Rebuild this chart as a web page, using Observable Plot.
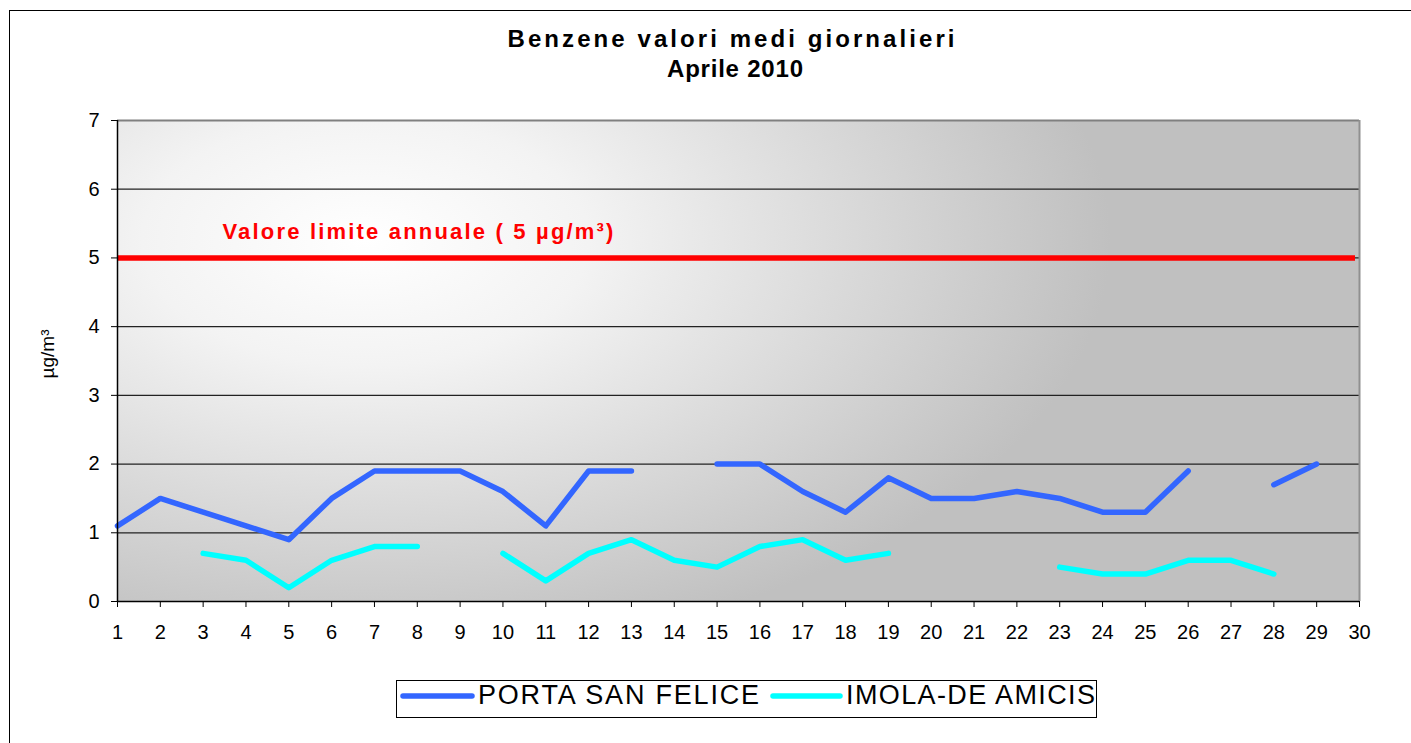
<!DOCTYPE html>
<html><head><meta charset="utf-8">
<script src="https://cdn.jsdelivr.net/npm/d3@7"></script>
<script src="https://cdn.jsdelivr.net/npm/@observablehq/plot@0.6"></script>
<style>
html,body{margin:0;padding:0;background:#fff;}
#wrap{position:relative;width:1411px;height:743px;overflow:hidden;font-family:"Liberation Sans",Arial,sans-serif;}
#frame{position:absolute;left:9px;top:10px;width:1420px;height:780px;border:1.5px solid #000;box-sizing:border-box;}
#chart{position:absolute;left:0;top:0;}
#overlay{position:absolute;left:0;top:0;}
</style></head><body>
<div id="wrap"><div id="frame"></div><div id="chart"></div><svg id="overlay" width="1411" height="743"></svg></div>
<script>
// ---- data ----
const days = [1,2,3,4,5,6,7,8,9,10,11,12,13,14,15,16,17,18,19,20,21,22,23,24,25,26,27,28,29,30];
const porta = [1.1,1.5,1.3,1.1,0.9,1.5,1.9,1.9,1.9,1.6,1.1,1.9,1.9,null,2.0,2.0,1.6,1.3,1.8,1.5,1.5,1.6,1.5,1.3,1.3,1.9,null,1.7,2.0,null];
const imola = [null,null,0.7,0.6,0.2,0.6,0.8,0.8,null,0.7,0.3,0.7,0.9,0.6,0.5,0.8,0.9,0.6,0.7,null,null,null,0.5,0.4,0.4,0.6,0.6,0.4,null,null];
const yTicks = [0,1,2,3,4,5,6,7];
const gridTicks = [1,2,3,4,5,6];
const limitValue = [5];
const limitLabel = [{day:3.45, value:5.385, text:"Valore limite annuale ( 5 µg/m³)"}];
const yLabel = ["µg/m³"];
const titleLines = ["Benzene valori medi giornalieri", "Aprile 2010"];
const seriesNames = ["PORTA SAN FELICE", "IMOLA-DE AMICIS"];
const seriesColors = ["#3366FF", "#00FFFF"];

const data = days.map((d, i) => ({day: d, porta: porta[i], imola: imola[i]}));

// gradient plot-area background
const background = (index, scales, values, dims) => {
  const ns = "http://www.w3.org/2000/svg";
  const g = document.createElementNS(ns, "g");
  const defs = document.createElementNS(ns, "defs");
  const grad = document.createElementNS(ns, "radialGradient");
  const x0 = dims.marginLeft, y0 = dims.marginTop;
  const w = dims.width - dims.marginLeft - dims.marginRight;
  const h = dims.height - dims.marginTop - dims.marginBottom;
  grad.setAttribute("id", "plotBg");
  grad.setAttribute("gradientUnits", "userSpaceOnUse");
  grad.setAttribute("cx", 0); grad.setAttribute("cy", 0); grad.setAttribute("r", 1);
  grad.setAttribute("gradientTransform", `translate(${x0 + 0.2 * w},${y0 + 0.25 * h}) scale(${0.6 * w},${0.87 * h})`);
  [[0, "#ffffff"], [0.3, "#f3f3f3"], [1, "#c0c0c0"]].forEach(([o, c]) => {
    const s = document.createElementNS(ns, "stop");
    s.setAttribute("offset", o); s.setAttribute("stop-color", c);
    grad.appendChild(s);
  });
  defs.appendChild(grad);
  g.appendChild(defs);
  const r = document.createElementNS(ns, "rect");
  r.setAttribute("x", x0); r.setAttribute("y", y0);
  r.setAttribute("width", w); r.setAttribute("height", h);
  r.setAttribute("fill", "url(#plotBg)");
  g.appendChild(r);
  return g;
};

const chart = Plot.plot({
  width: 1411,
  height: 743,
  marginLeft: 117,
  marginRight: 52,
  marginTop: 120,
  marginBottom: 142,
  x: {domain: [1, 30]},
  y: {domain: [0, 7]},
  style: {fontFamily: "'Liberation Sans', Arial, sans-serif", fontSize: "20px", background: "transparent", color: "#000", overflow: "visible"},
  marks: [
    background,
    Plot.ruleY(gridTicks, {stroke: "#222", strokeWidth: 1.3}),
    Plot.ruleY([7], {stroke: "#808080", strokeWidth: 2}),
    Plot.ruleX([30], {stroke: "#909090", strokeWidth: 2}),
    Plot.ruleY(limitValue, {stroke: "#FF0000", strokeWidth: 5.5, insetRight: 4}),
    Plot.line(data, {x: "day", y: "porta", stroke: seriesColors[0], strokeWidth: 5.5, strokeLinecap: "round", strokeLinejoin: "round"}),
    Plot.line(data, {x: "day", y: "imola", stroke: seriesColors[1], strokeWidth: 5.5, strokeLinecap: "round", strokeLinejoin: "round"}),
    Plot.ruleX([1], {stroke: "#000", strokeWidth: 1.5}),
    Plot.ruleY([0], {stroke: "#000", strokeWidth: 1.5}),
    Plot.axisY({ticks: yTicks, tickSize: 6, tickPadding: 12, fontSize: 20, label: null, tickFormat: d => String(d)}),
    Plot.axisX({ticks: days, tickSize: 6, tickPadding: 17, fontSize: 20, label: null, tickFormat: d => String(d)}),
    Plot.text(limitLabel, {x: "day", y: "value", text: "text", textAnchor: "start", lineAnchor: "middle", fill: "#FF0000", fontWeight: "bold", fontSize: 22, className: "limit-label"}),
    Plot.text(yLabel, {frameAnchor: "left", dx: -70, dy: -7, rotate: -90, textAnchor: "middle", fontSize: 19})
  ]
});
document.getElementById("chart").appendChild(chart);

const lim = chart.querySelector(".limit-label text");
if (lim) { lim.setAttribute("textLength", 391); lim.setAttribute("lengthAdjust", "spacing"); }

// ---- overlay: title + legend ----
const ov = d3.select("#overlay").style("font-family", "'Liberation Sans', Arial, sans-serif");
const titleSpec = [{x: 731, y: 47, len: 447}, {x: 735, y: 77, len: 136}];
titleLines.forEach((t, i) => {
  ov.append("text").attr("x", titleSpec[i].x).attr("y", titleSpec[i].y)
    .attr("text-anchor", "middle").attr("font-weight", "bold").attr("font-size", 24)
    .attr("textLength", titleSpec[i].len).attr("lengthAdjust", "spacing").text(t);
});

ov.append("rect").attr("x", 396.5).attr("y", 680.5).attr("width", 700).attr("height", 37)
  .attr("fill", "#fff").attr("stroke", "#000").attr("stroke-width", 1);
const legSpec = [{x1: 403, x2: 472, tx: 478, len: 281}, {x1: 773, x2: 840, tx: 846, len: 249}];
seriesNames.forEach((n, i) => {
  const s = legSpec[i];
  ov.append("line").attr("x1", s.x1).attr("x2", s.x2).attr("y1", 696).attr("y2", 696)
    .attr("stroke", seriesColors[i]).attr("stroke-width", 5.5).attr("stroke-linecap", "round");
  ov.append("text").attr("x", s.tx).attr("y", 704).attr("font-size", 27)
    .attr("textLength", s.len).attr("lengthAdjust", "spacing").text(n);
});
</script>
</body></html>
